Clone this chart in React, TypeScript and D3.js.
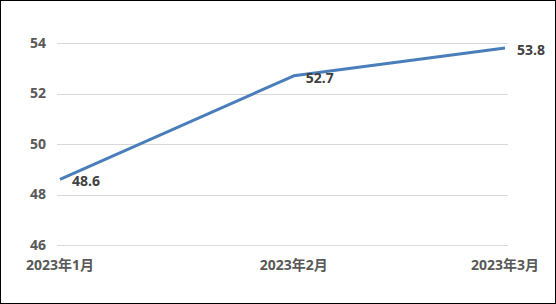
import React from "react";
import * as d3 from "d3";

const categories = ["2023年1月", "2023年2月", "2023年3月"];
const dates = ["2023-01-01", "2023-02-01", "2023-03-01"];
const values = [48.6, 52.7, 53.8];
const yTicks = [46, 48, 50, 52, 54];

const W = 556;
const H = 304;

export default function App() {
  if (typeof document !== "undefined") document.body.style.margin = "0";
  const parsed = dates.map((d) => new Date(d + "T00:00:00"));
  const x = d3.scaleTime().domain([parsed[0], parsed[2]]).range([60, 505]);
  const y = d3.scaleLinear().domain([46, 54]).range([245, 43]);
  const pts = values.map((v, i) => [x(parsed[i]), y(v)] as [number, number]);
  const line = d3.line()(pts) || "";
  const font = "'Open Sans', 'Noto Sans CJK SC', sans-serif";
  return (
    <svg width={W} height={H} style={{ display: "block" }}>
      <rect x={0.5} y={0.5} width={W - 1} height={H - 1} fill="#fff" stroke="#000" />
      {yTicks.map((t) => (
        <g key={t}>
          <line x1={57} x2={508} y1={Math.round(y(t)) + 0.5} y2={Math.round(y(t)) + 0.5} stroke="#d9d9d9" />
          <text x={46} y={y(t)} dy="0.35em" textAnchor="end" fontFamily={font} fontWeight="bold" fontSize={14} fill="#595959">
            {t}
          </text>
        </g>
      ))}
      {categories.map((c, i) => (
        <text key={c} x={x(parsed[i])} y={265} dy="0.35em" textAnchor="middle" fontFamily={font} fontWeight="bold" fontSize={14} fill="#595959">
          {c}
        </text>
      ))}
      <path d={line} fill="none" stroke="#4a7ebb" strokeWidth={3} strokeLinejoin="round" />
      {values.map((v, i) => (
        <text key={i} x={pts[i][0] + 12} y={pts[i][1] + 2} dy="0.35em" fontFamily={font} fontWeight="bold" fontSize={14} fill="#404040">
          {v.toFixed(1)}
        </text>
      ))}
    </svg>
  );
}
